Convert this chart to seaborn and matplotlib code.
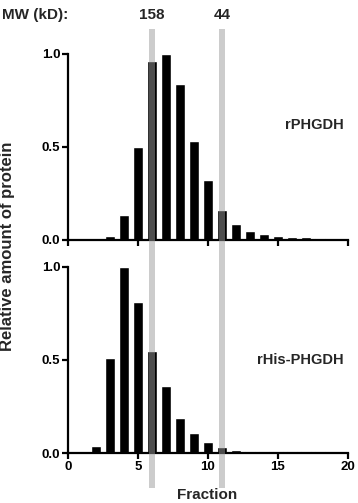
import pandas as pd
import seaborn as sns
import matplotlib.pyplot as plt
from matplotlib.patches import Rectangle
from matplotlib.transforms import blended_transform_factory

# Data
fractions = list(range(1, 19))
rphgdh = [0.0, 0.006, 0.02, 0.135, 0.50, 0.96, 1.0, 0.84, 0.53, 0.32, 0.16,
          0.085, 0.05, 0.03, 0.022, 0.018, 0.015, 0.012]
rhis_phgdh = [0.0, 0.04, 0.51, 1.0, 0.81, 0.55, 0.36, 0.19, 0.11, 0.06, 0.03,
              0.017, 0.013, 0.012, 0.011, 0.010, 0.010, 0.009]
marker_fractions = [6, 11]
marker_labels = ["158", "44"]
xticks = [0, 5, 10, 15, 20]
yticks = [0.0, 0.5, 1.0]

sns.set_theme(style="ticks")
plt.rcParams['font.family'] = ['Liberation Sans', 'DejaVu Sans']
plt.rcParams['font.weight'] = 'bold'

fig = plt.figure(figsize=(3.58, 5.03), dpi=100)
ax1 = fig.add_axes([0.190, 0.523, 0.782, 0.370])
ax2 = fig.add_axes([0.190, 0.0994, 0.782, 0.370])

panels = [(ax1, rphgdh, "rPHGDH", 0.62), (ax2, rhis_phgdh, "rHis-PHGDH", 0.50)]
for ax, vals, name, ty in panels:
    df = pd.DataFrame({"fraction": fractions, "value": vals})
    sns.barplot(data=df, x="fraction", y="value", native_scale=True,
                color="black", saturation=1, width=0.68, ax=ax)
    ax.set_xlim(0, 20)
    ax.set_ylim(0, 1.0)
    ax.set_xticks(xticks)
    ax.set_yticks(yticks)
    ax.set_yticklabels(["0.0", "0.5", "1.0"])
    ax.set_xlabel("")
    ax.set_ylabel("")
    sns.despine(ax=ax)
    for s in ["left", "bottom"]:
        ax.spines[s].set_linewidth(1.6)
        ax.spines[s].set_color("black")
    ax.tick_params(width=1.6, length=4, color="black", labelsize=9.5,
                   pad=1.5, labelcolor="black")
    for lab in ax.get_xticklabels() + ax.get_yticklabels():
        lab.set_fontweight("bold")
    ax.text(0.985, ty, name, transform=ax.transAxes, ha="right", va="center",
            fontsize=10.5, fontweight="bold")
    ax.patch.set_alpha(0)

ax1.set_xticklabels([])
fig.text(0.578, 0.015, "Fraction", ha="center", va="center", fontsize=11,
         fontweight="bold")
fig.text(0.022, 0.51, "Relative amount of protein", rotation=90,
         ha="center", va="center", fontsize=12, fontweight="bold")

# grey marker bands across both panels
trans = blended_transform_factory(ax2.transData, fig.transFigure)
for f, lab in zip(marker_fractions, marker_labels):
    band = Rectangle((f - 0.22, 0.030), 0.44, 0.912, transform=trans,
                     facecolor="#9a9a9a", alpha=0.5, edgecolor="none",
                     zorder=5)
    fig.add_artist(band)
    fig.text(f, 0.985, lab, transform=trans, ha="center", va="top",
             fontsize=11, fontweight="bold")
fig.text(0.005, 0.985, "MW (kD):", ha="left", va="top", fontsize=11,
         fontweight="bold")

fig.savefig("out.png", dpi=100)
